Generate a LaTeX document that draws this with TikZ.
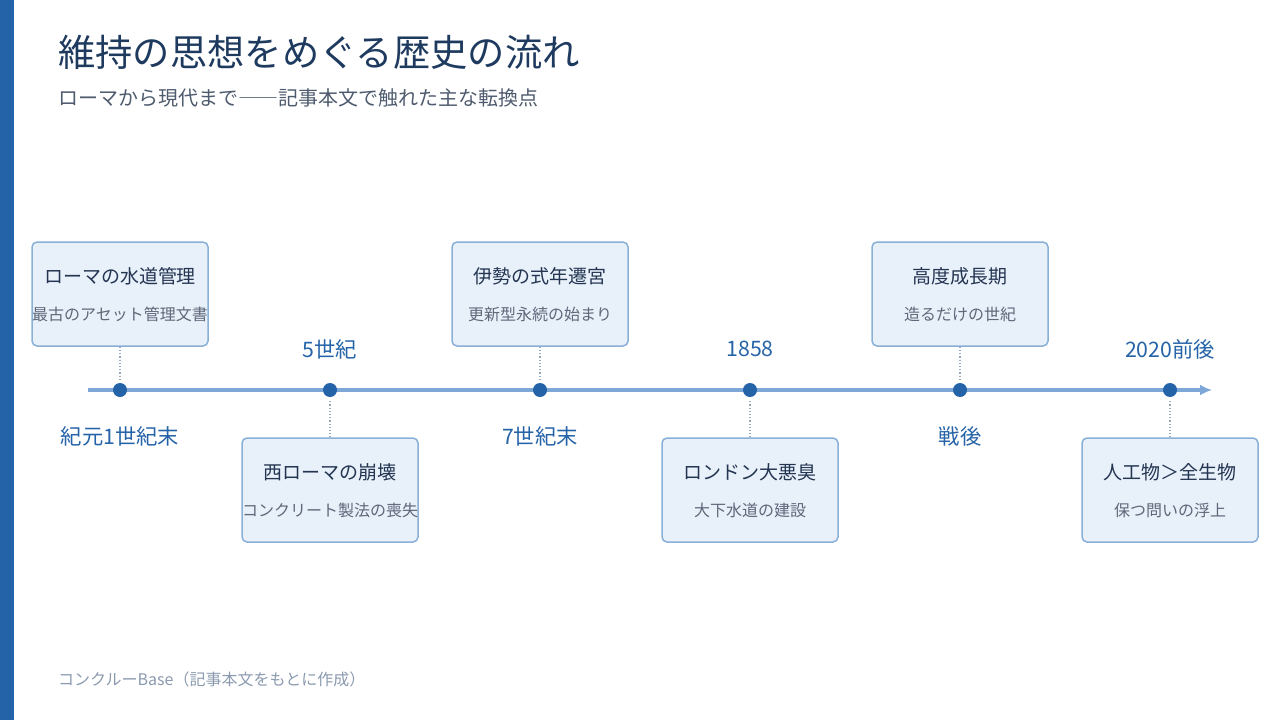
\documentclass[tikz,border=0pt]{standalone}
\usepackage{fontspec}
\setmainfont{Noto Sans CJK JP}
\usetikzlibrary{positioning,arrows.meta}
\definecolor{barblue}{HTML}{2563A8}
\definecolor{navy}{HTML}{1E3A5F}
\definecolor{subgray}{HTML}{4E5B6E}
\definecolor{lineblue}{HTML}{7DA7D6}
\definecolor{boxfill}{HTML}{E8F0FA}
\definecolor{boxline}{HTML}{8AB0D8}
\definecolor{boxtext}{HTML}{243552}
\definecolor{boxsub}{HTML}{5E6879}
\definecolor{linkgray}{HTML}{9AAABD}
\definecolor{footgray}{HTML}{8B9AAF}
\tikzset{
  evbox/.style={draw=boxline, fill=boxfill, line width=1.5pt, rounded corners=5pt,
    minimum width=176pt, minimum height=104pt, inner sep=0pt},
  evtitle/.style={text=boxtext, font=\fontsize{19}{23}\selectfont, inner sep=0pt},
  evsub/.style={text=boxsub, font=\fontsize{16}{19}\selectfont, inner sep=0pt},
  evdate/.style={text=barblue, font=\fontsize{21.3}{25}\selectfont, inner sep=0pt},
  evdot/.style={circle, fill=barblue, minimum size=14pt, inner sep=0pt},
  link/.style={draw=linkgray, line width=1.2pt, dotted},
  tl/.style={draw=lineblue, line width=4pt, -{Latex[length=12pt,width=11pt]}}
}
\begin{document}
\begin{tikzpicture}[x=1pt,y=-1pt]
\useasboundingbox (0,0) rectangle (1280,720);
\fill[barblue] (0,0) rectangle (14,720);
\node[anchor=base west, text=navy, font=\fontsize{37.3}{44}\selectfont, inner sep=0pt] (title) at (58,66) {維持の思想をめぐる歴史の流れ};
\node[anchor=base west, text=subgray, font=\fontsize{20}{24}\selectfont, inner sep=0pt] (subtitle) at (58,105) {ローマから現代まで――記事本文で触れた主な転換点};
\node[anchor=base west, text=footgray, font=\fontsize{16}{19}\selectfont, inner sep=0pt] (foot) at (58,685) {コンクルーBase（記事本文をもとに作成）};

\coordinate (tlS) at (88,390);
\coordinate (tlE) at (1212,390);
\draw[tl] (tlS) -- (tlE);

\node[evdot] (d1) at (120,390) {};
\node[evdot] (d2) at (330,390) {};
\node[evdot] (d3) at (540,390) {};
\node[evdot] (d4) at (750,390) {};
\node[evdot] (d5) at (960,390) {};
\node[evdot] (d6) at (1170,390) {};

\node[evdate] (t1) at (120,436) {紀元1世紀末};
\node[evdate] (t2) at (330,349) {5世紀};
\node[evdate] (t3) at (540,436) {7世紀末};
\node[evdate] (t4) at (750,349) {1858};
\node[evdate] (t5) at (960,436) {戦後};
\node[evdate] (t6) at (1170,349) {2020前後};

\node[evbox] (roma) at (120,294) {};
\node[evtitle] at ([yshift=18pt]roma.center) {ローマの水道管理};
\node[evsub] at ([yshift=-20pt]roma.center) {最古のアセット管理文書};

\node[evbox] (west) at (330,490) {};
\node[evtitle] at ([yshift=18pt]west.center) {西ローマの崩壊};
\node[evsub] at ([yshift=-20pt]west.center) {コンクリート製法の喪失};

\node[evbox] (ise) at (540,294) {};
\node[evtitle] at ([yshift=18pt]ise.center) {伊勢の式年遷宮};
\node[evsub] at ([yshift=-20pt]ise.center) {更新型永続の始まり};

\node[evbox] (london) at (750,490) {};
\node[evtitle] at ([yshift=18pt]london.center) {ロンドン大悪臭};
\node[evsub] at ([yshift=-20pt]london.center) {大下水道の建設};

\node[evbox] (growth) at (960,294) {};
\node[evtitle] at ([yshift=18pt]growth.center) {高度成長期};
\node[evsub] at ([yshift=-20pt]growth.center) {造るだけの世紀};

\node[evbox] (human) at (1170,490) {};
\node[evtitle] at ([yshift=18pt]human.center) {人工物＞全生物};
\node[evsub] at ([yshift=-20pt]human.center) {保つ問いの浮上};

\draw[link] (roma.south) -- ([yshift=4pt]d1.north);
\draw[link] (ise.south) -- ([yshift=4pt]d3.north);
\draw[link] (growth.south) -- ([yshift=4pt]d5.north);
\draw[link] ([yshift=-4pt]d2.south) -- (west.north);
\draw[link] ([yshift=-4pt]d4.south) -- (london.north);
\draw[link] ([yshift=-4pt]d6.south) -- (human.north);
\end{tikzpicture}
\end{document}
